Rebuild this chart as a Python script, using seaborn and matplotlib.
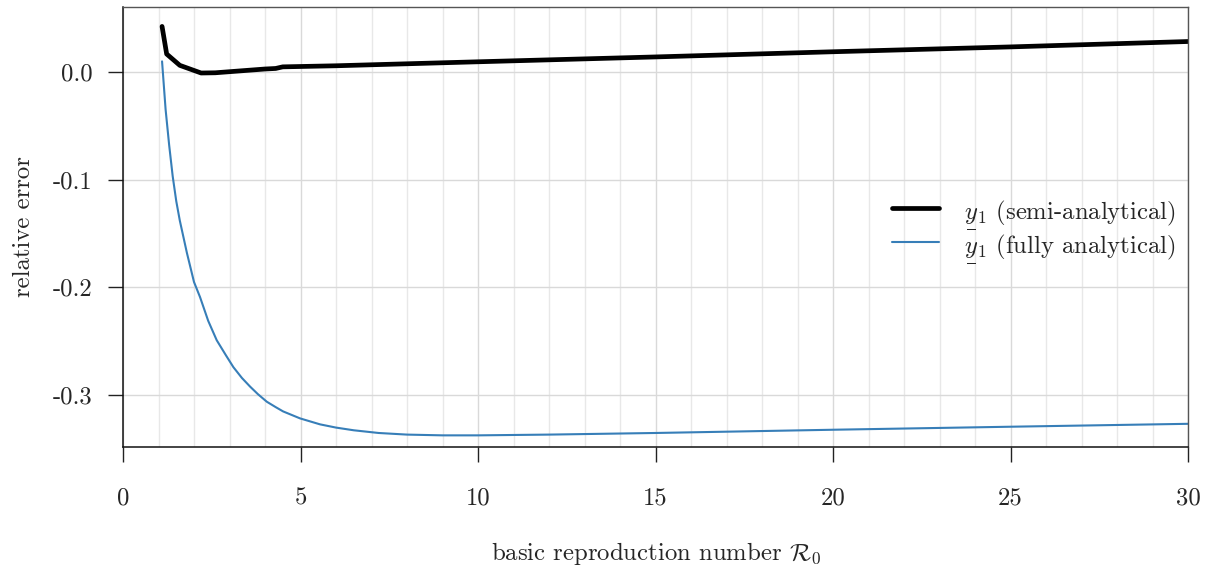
import numpy as np
import pandas as pd
import matplotlib
matplotlib.use("Agg")
import matplotlib.pyplot as plt
import seaborn as sns

# ── data ──────────────────────────────────────────────────
r0_semi = [1.1, 1.23, 1.6, 2.2, 2.6, 3.0, 4.0, 4.3, 4.5, 6, 10, 15, 20, 25, 30]
err_semi = [0.042, 0.0164, 0.0059, -0.0012, -0.001, 0.0, 0.0025, 0.003, 0.0045,
            0.0055, 0.0092, 0.0137, 0.0185, 0.023, 0.028]

r0_full = [1.1, 1.2, 1.3, 1.4, 1.5, 1.6, 1.8, 2.0, 2.17, 2.4, 2.64, 2.9, 3.11,
           3.35, 3.58, 3.8, 4.05, 4.3, 4.51, 4.99, 5.55, 6.0, 6.5, 7.2, 8.0,
           9.0, 10, 12, 15, 20, 25, 30]
err_full = [0.0096, -0.035, -0.068, -0.097, -0.120, -0.138, -0.168, -0.195,
            -0.209, -0.231, -0.249, -0.263, -0.274, -0.284, -0.292, -0.299,
            -0.306, -0.311, -0.315, -0.3215, -0.327, -0.330, -0.3325, -0.335,
            -0.3365, -0.3372, -0.3372, -0.3365, -0.335, -0.332, -0.3292, -0.3265]

# mathtext has no \underline, so a rule is set under y with \underset
labels = [r"$\underset{\overline{\,\,\,}}{y}_1$ (semi-analytical)",
          r"$\underset{\overline{\,\,\,}}{y}_1$ (fully analytical)"]
x_ticks = [0, 5, 10, 15, 20, 25, 30]
y_ticks = [0.0, -0.1, -0.2, -0.3]
y_ticklabels = ["0.0", "-0.1", "-0.2", "-0.3"]

df = pd.concat([
    pd.DataFrame({"R0": r0_semi, "err": err_semi, "method": labels[0]}),
    pd.DataFrame({"R0": r0_full, "err": err_full, "method": labels[1]}),
])

# ── style ─────────────────────────────────────────────────
sns.set_theme(style="white")
plt.rcParams["font.family"] = ["cmr10", "DejaVu Serif"]
plt.rcParams["mathtext.fontset"] = "cm"
plt.rcParams["axes.formatter.use_mathtext"] = True
plt.rcParams["axes.unicode_minus"] = False

FS = 17.8

fig, ax = plt.subplots(figsize=(12.08, 5.71), dpi=100)
fig.subplots_adjust(left=123/1208, right=1188/1208, top=1-7/571, bottom=1-447/571)

sns.lineplot(data=df, x="R0", y="err", hue="method", size="method",
             palette={labels[0]: "black", labels[1]: "#377eb8"},
             sizes={labels[0]: 3.4, labels[1]: 1.5},
             estimator=None, sort=False, ax=ax)

ax.set_xlim(0, 30)
ax.set_ylim(-0.348, 0.060)

ax.set_xticks(np.arange(0, 31, 1), minor=True)
ax.set_xticks(x_ticks)
ax.set_xticklabels([str(t) for t in x_ticks])
ax.set_yticks(y_ticks)
ax.set_yticklabels(y_ticklabels)

ax.grid(True, which="major", color="#d9d9d9", linewidth=1.0)
ax.grid(True, which="minor", axis="x", color="#e8e8e8", linewidth=1.0)
ax.set_axisbelow(True)

ax.tick_params(axis="both", which="major", direction="out", length=11, width=1,
               color="#222222", labelsize=FS, bottom=True, left=True)
ax.tick_params(axis="x", which="minor", length=0)
ax.tick_params(axis="x", pad=18)
ax.tick_params(axis="y", pad=11)

for side in ["left", "bottom"]:
    ax.spines[side].set_color("#111111")
    ax.spines[side].set_linewidth(1.1)
for side in ["top", "right"]:
    ax.spines[side].set_color("#555555")
    ax.spines[side].set_linewidth(1.0)

ax.set_xlabel(r"basic reproduction number $\mathcal{R}_0$", fontsize=FS, labelpad=22)
ax.set_ylabel("relative error", fontsize=FS, labelpad=13)

ax.legend(loc="center right", bbox_to_anchor=(1.009, 0.49), frameon=False,
          fontsize=FS, handlelength=1.9, handletextpad=1.0, labelspacing=0.05)

plt.savefig("out.png", dpi=100)
